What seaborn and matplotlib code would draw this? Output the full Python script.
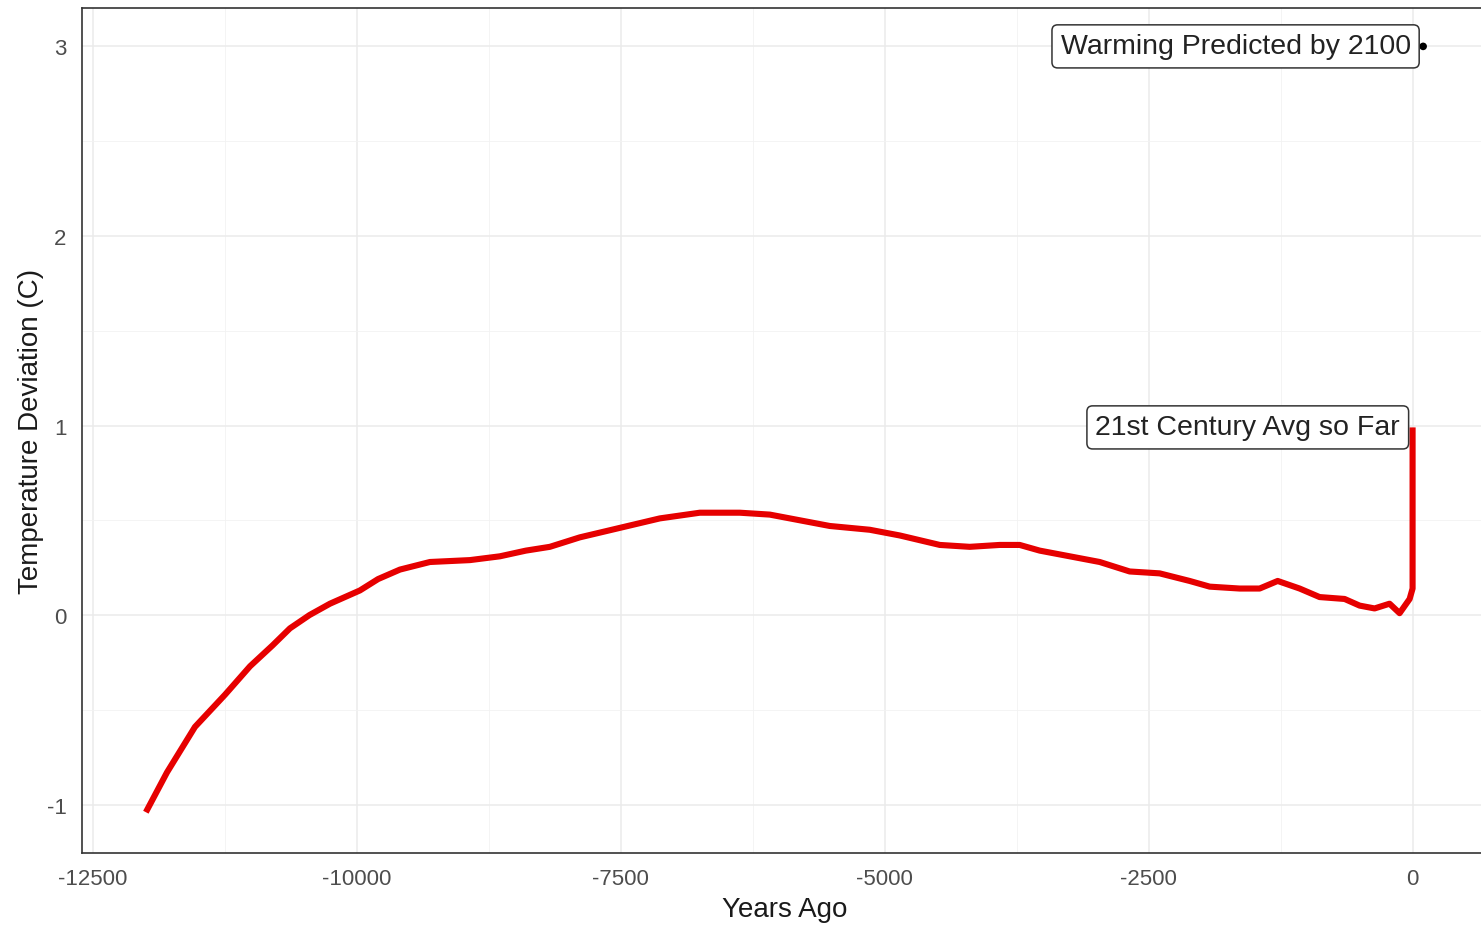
import matplotlib
matplotlib.use("Agg")
import matplotlib.pyplot as plt
from matplotlib.ticker import MultipleLocator, FixedLocator
import seaborn as sns
import pandas as pd

# ---- data ----
years_ago = [-12000, -11800, -11535, -11250, -11013, -10800, -10635, -10450, -10256,
             -9972, -9800, -9593, -9309, -8930, -8646, -8400, -8173, -7889, -7510,
             -7131, -6752, -6373, -6089, -5805, -5521, -5142, -4858, -4479, -4195,
             -3911, -3722, -3532, -3248, -2964, -2680, -2396, -2112, -1922, -1638,
             -1449, -1278, -1070, -881, -644, -502, -360, -218, -123, -28, 0, 0]
temp_dev = [-1.04, -0.83, -0.59, -0.42, -0.27, -0.16, -0.07, 0.00, 0.06,
            0.13, 0.19, 0.24, 0.28, 0.29, 0.31, 0.34, 0.36, 0.41, 0.46,
            0.51, 0.54, 0.54, 0.53, 0.50, 0.47, 0.45, 0.42, 0.37, 0.36,
            0.37, 0.37, 0.34, 0.31, 0.28, 0.23, 0.22, 0.18, 0.15, 0.14,
            0.14, 0.18, 0.14, 0.095, 0.085, 0.05, 0.035, 0.06, 0.01, 0.085, 0.14, 0.99]

pred_year = [100]
pred_temp = [3.0]

x_ticks = [-12500, -10000, -7500, -5000, -2500, 0]
y_ticks = [-1, 0, 1, 2, 3]

label_now = "21st Century Avg so Far"
label_pred = "Warming Predicted by 2100"
x_title = "Years Ago"
y_title = "Temperature Deviation (C)"

df = pd.DataFrame({"year": years_ago, "temp": temp_dev})
dp = pd.DataFrame({"year": pred_year, "temp": pred_temp})

sns.set_theme(style="white")
plt.rcParams["font.family"] = ["Liberation Sans", "DejaVu Sans"]

W, H = 1481, 928
fig = plt.figure(figsize=(W / 100, H / 100), dpi=100)
left, right, top, bottom = 82, 1487, 9, 853.5
ax = fig.add_axes([left / W, 1 - bottom / H, (right - left) / W, (bottom - top) / H])

# grid
ax.set_axisbelow(True)
ax.xaxis.set_major_locator(FixedLocator(x_ticks))
ax.yaxis.set_major_locator(FixedLocator(y_ticks))
ax.xaxis.set_minor_locator(MultipleLocator(1250))
ax.yaxis.set_minor_locator(MultipleLocator(0.5))
ax.grid(which="major", color="#ebebeb", linewidth=1.1)
ax.grid(which="minor", color="#f2f2f2", linewidth=0.6)

sns.lineplot(data=df, x="year", y="temp", ax=ax, color="#e60000", linewidth=4.4,
             estimator=None, sort=False, solid_capstyle="butt", solid_joinstyle="round")
sns.scatterplot(data=dp, x="year", y="temp", ax=ax, color="black", s=30,
                edgecolor="none")

box = dict(boxstyle="round,pad=0.3,rounding_size=0.2", facecolor="white",
           edgecolor="#333333", linewidth=1.1)
ax.annotate(label_pred, xy=(pred_year[0], pred_temp[0]), xytext=(-9, 0),
            textcoords="offset points", ha="right", va="center", fontsize=20.5,
            color="#222222", bbox=box)
ax.annotate(label_now, xy=(years_ago[-1], temp_dev[-1]), xytext=(-9, 0),
            textcoords="offset points", ha="right", va="center", fontsize=20.5,
            color="#222222", bbox=box)

ax.set_xlim(-12605, 705)
ax.set_ylim(-1.2525, 3.2025)
ax.set_xticklabels([str(v) for v in x_ticks])
ax.set_yticklabels([str(v) for v in y_ticks])
ax.tick_params(axis="both", which="major", length=5, width=1, color="#333333",
               labelsize=16, labelcolor="#4d4d4d", pad=6, direction="out")
ax.tick_params(axis="both", which="minor", length=0)
for s in ax.spines.values():
    s.set_color("#333333")
    s.set_linewidth(1.2)

ax.set_xlabel(x_title, fontsize=20, color="#1a1a1a", labelpad=5)
ax.set_ylabel(y_title, fontsize=20, color="#1a1a1a", labelpad=2)

fig.savefig("out.png", dpi=100)
